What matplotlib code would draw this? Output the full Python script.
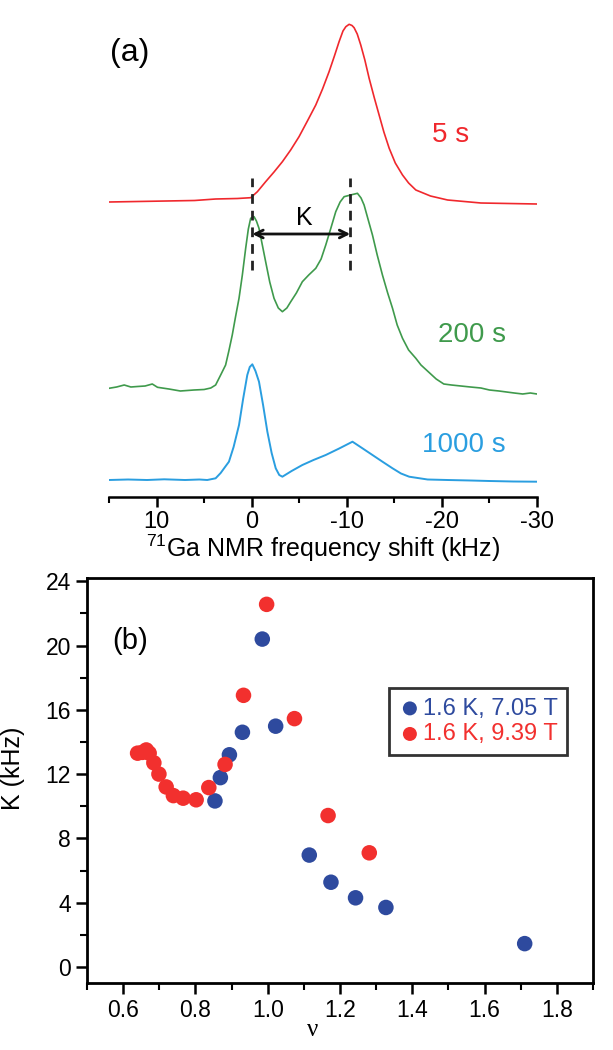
import matplotlib
matplotlib.use("Agg")
import matplotlib.pyplot as plt
from matplotlib.ticker import MultipleLocator

plt.rcParams["font.family"] = ["Liberation Sans", "DejaVu Sans"]
plt.rcParams["mathtext.fontset"] = "custom"
plt.rcParams["mathtext.rm"] = "Liberation Sans"
plt.rcParams["axes.unicode_minus"] = False

# (a) spectra: frequency shift (kHz) and trace height (arbitrary, offset per trace)
red_f = [15.0, 12.0, 9.0, 6.0, 3.79, 1.5, 0.1, -0.6, -1.47, -2.35, -3.23, -4.1,
         -4.98, -5.86, -6.74, -7.45, -8.14, -8.7, -9.19, -9.6, -9.9, -10.25,
         -10.55, -10.77, -11.1, -11.47, -11.9, -12.35, -12.9, -13.4, -13.9,
         -14.46, -15.1, -15.86, -16.5, -17.26, -18.8, -20.6, -24.1, -27.0, -30.0]
red_y = [295, 295.5, 296, 296.5, 298, 298.5, 299.3, 305.3, 315.3, 325, 335.3, 347,
         360.3, 376, 392, 408, 425.3, 441, 455.3, 466, 470.3, 472.7,
         471.5, 469.3, 463, 452, 437, 418.7, 399, 382, 365,
         348.7, 334, 322, 314, 307, 301, 297, 294, 293.5, 293]

green_f = [15.0, 14.2, 13.4, 12.7, 12.0, 11.2, 10.45, 9.9, 8.7, 7.5, 6.07, 5.0,
           4.3, 3.79, 3.26, 2.74, 2.4, 2.04, 1.7, 1.33, 0.98, 0.63, 0.35, 0.105,
           -0.25, -0.5, -0.77, -1.1, -1.47, -1.9, -2.35, -2.8, -3.23, -3.7, -4.11,
           -4.7, -5.33, -6.0, -6.74, -7.3, -7.79, -8.3, -8.84, -9.3, -9.72, -10.4,
           -11.12, -11.5, -11.82, -12.2, -12.7, -13.2, -13.75, -14.3, -14.81,
           -15.3, -15.86, -16.5, -17.26, -17.8, -18.6, -19.4, -20.2, -21.0, -22.0,
           -23.0, -24.1, -25.0, -26.0, -26.8, -27.6, -28.5, -29.3, -30.0]
green_y = [108.7, 110, 112, 110, 110.5, 111, 113, 109.7, 108, 106, 107, 107.5,
           109, 112, 122, 132, 146, 162, 180, 198.7, 222, 248.7, 268, 278.7,
           280.3, 276, 268.7, 253, 235.3, 215, 198.7, 189, 185.3, 189, 195.3,
           204, 215.3, 222, 228.7, 238, 252, 268, 285.3, 295, 300.3, 302,
           303.7, 299, 292, 279, 262, 242, 222, 204, 188.7,
           172, 158.7, 147, 138.7, 132, 125, 118, 113, 112, 111,
           110, 109, 107, 106, 105, 104, 103, 104, 103]

blue_f = [15.0, 13.0, 11.0, 9.2, 7.0, 5.5, 4.67, 3.79, 3.26, 2.8, 2.39, 1.9, 1.33,
          0.9, 0.46, 0.2, -0.07, -0.4, -0.77, -1.2, -1.65, -2.1, -2.53, -2.9,
          -3.23, -4.2, -5.33, -6.5, -7.79, -9.2, -10.6, -11.6, -12.7, -13.8,
          -14.81, -15.7, -16.56, -18.5, -20.6, -23.0, -25.0, -27.5, -30.0]
blue_y = [17, 17.5, 17, 17.7, 17, 17.5, 17, 18.7, 24, 30, 35.3, 50, 72,
          98, 122, 130, 132.7, 126, 115.3, 92, 65.3, 44, 28.7, 22,
          20.3, 26, 32, 37, 42, 48.5, 55.3, 49, 42, 35,
          28.7, 23.5, 20.3, 17.5, 17, 16.5, 16, 15.5, 15.3]

k_left = -0.07
k_right = -10.36

# (b) splitting K vs filling factor
nu_705 = [0.854, 0.869, 0.894, 0.930, 0.985, 1.022, 1.115, 1.175, 1.243, 1.327, 1.711]
K_705 = [10.33, 11.78, 13.2, 14.6, 20.4, 14.98, 6.96, 5.27, 4.30, 3.70, 1.45]

nu_939 = [0.640, 0.653, 0.664, 0.672, 0.685, 0.699, 0.719, 0.739, 0.766, 0.802,
          0.837, 0.882, 0.933, 0.997, 1.074, 1.167, 1.281]
K_939 = [13.3, 13.35, 13.5, 13.3, 12.7, 12.0, 11.2, 10.66, 10.5, 10.4,
         11.16, 12.6, 16.9, 22.56, 15.45, 9.42, 7.1]

RED = "#f0282d"
GREEN = "#3f9a4c"
LBLUE = "#2a9ee0"
DBLUE = "#2e4a9e"
PRED = "#f2302e"

fig = plt.figure(figsize=(6.13, 10.5), dpi=100)

# ---- panel (a) ----
ax1 = fig.add_axes([109 / 613, 1 - 497 / 1050, 428 / 613, 497 / 1050])
ax1.plot(red_f, red_y, color=RED, lw=1.2)
ax1.plot(green_f, green_y, color=GREEN, lw=1.2)
ax1.plot(blue_f, blue_y, color=LBLUE, lw=1.4)

for f0 in (k_left, k_right):
    ax1.plot([f0, f0], [227, 319], color="#222222", lw=2, ls=(0, (3.5, 2.5)))
ax1.annotate("", xy=(k_right, 263), xytext=(k_left, 263),
             arrowprops=dict(arrowstyle="<->", color="#111111", lw=2, mutation_scale=14,
                             shrinkA=0, shrinkB=0))
ax1.text(-5.5, 279, "K", fontsize=18, ha="center", va="center")

ax1.text(12.8, 444, "(a)", fontsize=23, ha="center", va="center")
ax1.text(-20.9, 362, "5 s", color=RED, fontsize=20, ha="center", va="center")
ax1.text(-23.2, 162, "200 s", color=GREEN, fontsize=20, ha="center", va="center")
ax1.text(-22.3, 52, "1000 s", color=LBLUE, fontsize=20, ha="center", va="center")

ax1.set_xlim(15, -30)
ax1.set_ylim(0, 497)
for s in ("left", "right", "top"):
    ax1.spines[s].set_visible(False)
ax1.spines["bottom"].set_linewidth(1.8)
ax1.set_yticks([])
ax1.xaxis.set_major_locator(MultipleLocator(10))
ax1.xaxis.set_minor_locator(MultipleLocator(5))
ax1.tick_params(axis="x", which="major", direction="out", length=7, width=1.8,
                labelsize=17, pad=3)
ax1.tick_params(axis="x", which="minor", direction="out", length=4, width=1.5)
ax1.set_xlabel("$^{71}$Ga NMR frequency shift (kHz)", fontsize=18, labelpad=0)
ax1.patch.set_alpha(0)

# ---- panel (b) ----
ax2 = fig.add_axes([87 / 613, 1 - 983 / 1050, 506 / 613, 405 / 1050])
ax2.scatter(nu_705, K_705, s=125, color=DBLUE, edgecolors="none", zorder=3,
            label="1.6 K, 7.05 T")
ax2.scatter(nu_939, K_939, s=125, color=PRED, edgecolors="none", zorder=3,
            label="1.6 K, 9.39 T")
ax2.set_xlim(0.5, 1.9)
ax2.set_ylim(-1.0, 24.2)
ax2.xaxis.set_major_locator(MultipleLocator(0.2))
ax2.xaxis.set_minor_locator(MultipleLocator(0.1))
ax2.yaxis.set_major_locator(MultipleLocator(4))
ax2.yaxis.set_minor_locator(MultipleLocator(2))
ax2.tick_params(which="major", direction="out", length=8, width=1.8, labelsize=16.5,
                top=False, right=False)
ax2.tick_params(which="minor", direction="out", length=5, width=1.5,
                top=False, right=False)
for s in ax2.spines.values():
    s.set_linewidth(2)
ax2.xaxis.set_major_formatter(plt.FuncFormatter(lambda v, p: f"{v:.1f}"))

ax2.set_ylabel("K (kHz)", fontsize=18)
ax2.yaxis.set_label_coords(-0.122, 0.53)
ax2.set_xlabel("ν", fontsize=18, family=["Liberation Serif", "DejaVu Serif"])
ax2.xaxis.set_label_coords(0.445, -0.09)

ax2.text(0.618, 20.3, "(b)", fontsize=21, ha="center", va="center")

leg = ax2.legend(loc="upper right", bbox_to_anchor=(0.949, 0.728), borderaxespad=0,
                 fontsize=17, frameon=True, fancybox=False, handletextpad=0.05,
                 handlelength=1.0, borderpad=0.4, labelspacing=0.15, markerscale=0.9)
leg.get_frame().set_edgecolor("black")
leg.get_frame().set_linewidth(2)
for txt, c in zip(leg.get_texts(), (DBLUE, PRED)):
    txt.set_color(c)

fig.savefig("out.png", dpi=100)
